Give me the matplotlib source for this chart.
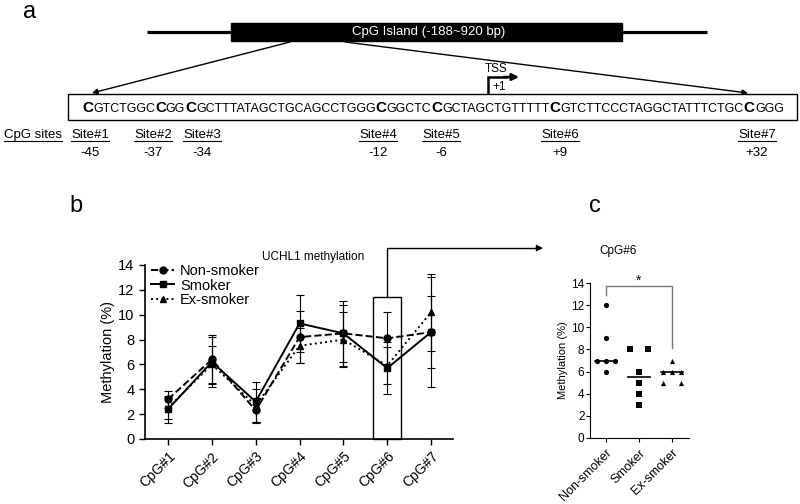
import matplotlib
matplotlib.use('Agg')
import numpy as np
import matplotlib.pyplot as plt
from matplotlib.patches import Rectangle

plt.rcParams['font.family'] = ['Liberation Sans', 'DejaVu Sans']

# ---- panel a: sequence / CpG sites ----
seq_parts = ["C", "GTCTGGC", "C", "GG", "C", "GCTTTATAGCTGCAGCCTGGG", "C", "GGCTC",
             "C", "GCTAGCTGTTTTT", "C", "GTCTTCCCTAGGCTATTTCTGC", "C", "GGG"]
site_names = ["Site#1", "Site#2", "Site#3", "Site#4", "Site#5", "Site#6", "Site#7"]
site_pos = ["-45", "-37", "-34", "-12", "-6", "+9", "+32"]
site_x = [90, 153, 202, 378, 441, 560, 757]

# ---- panel b: UCHL1 methylation ----
cpg = ["CpG#1", "CpG#2", "CpG#3", "CpG#4", "CpG#5", "CpG#6", "CpG#7"]
non_mean = [3.2, 6.4, 2.3, 8.2, 8.5, 8.1, 8.6]
non_sd = [0.7, 2.0, 1.0, 2.1, 2.6, 2.1, 2.9]
smk_mean = [2.4, 6.2, 3.0, 9.3, 8.5, 5.7, 8.6]
smk_sd = [1.1, 2.0, 1.6, 2.3, 2.3, 2.1, 4.4]
ex_mean = [2.5, 6.0, 2.7, 7.5, 8.0, 5.9, 10.2]
ex_sd = [0.9, 1.5, 1.3, 1.4, 2.2, 1.5, 3.1]

# ---- panel c: CpG#6 individual values ----
groups = ["Non-smoker", "Smoker", "Ex-smoker"]
non_vals = [12, 9, 7, 7, 7, 6]
smk_vals = [8, 8, 6, 5, 4, 3]
ex_vals = [7, 6, 6, 6, 5, 5]

W, H = 800, 504
fig = plt.figure(figsize=(8, 5.04), dpi=100)
ax0 = fig.add_axes([0, 0, 1, 1])
ax0.set_xlim(0, W)
ax0.set_ylim(H, 0)
ax0.axis('off')
r = fig.canvas.get_renderer()

# panel labels
ax0.text(30, 12, "a", fontsize=17, ha='center', va='center')
ax0.text(76, 206, "b", fontsize=17, ha='center', va='center')
ax0.text(595, 206, "c", fontsize=17, ha='center', va='center')

# gene / CpG island
ax0.plot([147, 707], [32, 32], color='black', lw=2.3, solid_capstyle='butt')
ax0.add_patch(Rectangle((231, 23), 391, 18, color='black'))
ax0.text(429, 32, "CpG Island (-188~920 bp)", color='white', fontsize=9.5,
         ha='center', va='center')

# zoom arrows
for x0, x1 in [(290, 92), (345, 748)]:
    ax0.annotate('', xy=(x1, 93), xytext=(x0, 42),
                 arrowprops=dict(arrowstyle='-|>', color='black', lw=1,
                                 mutation_scale=8, shrinkA=0, shrinkB=0))

# sequence box
ax0.add_patch(Rectangle((68, 94), 729, 26, facecolor='white', edgecolor='black', lw=1))


def draw_seq(scale):
    x = 82
    arts = []
    for i, s in enumerate(seq_parts):
        if i % 2 == 0:
            t = ax0.text(x, 112, s, fontsize=12 * scale, fontweight='bold',
                         ha='left', va='baseline')
        else:
            t = ax0.text(x, 112, s, fontsize=9.8 * scale, ha='left', va='baseline')
        bb = t.get_window_extent(r)
        x = bb.x1
        arts.append(t)
    return arts, x - 82


arts, width = draw_seq(1.0)
for a in arts:
    a.remove()
draw_seq(703 / width)

# TSS
ax0.plot([488, 488, 506], [93, 77, 77], color='black', lw=1.8, solid_joinstyle='miter')
ax0.annotate('', xy=(519, 77), xytext=(504, 77),
             arrowprops=dict(arrowstyle='-|>', color='black', lw=1.8,
                             mutation_scale=10, shrinkA=0, shrinkB=0))
ax0.text(496, 69, "TSS", fontsize=8.5, ha='center', va='center')
ax0.text(492, 87, "+1", fontsize=8.5, ha='left', va='center')


def underlined(x, y, s):
    t = ax0.text(x, y, s, fontsize=9.5, ha='center', va='center')
    bb = t.get_window_extent(r)
    ax0.plot([bb.x0, bb.x1], [y + 6, y + 6], color='black', lw=0.8)


underlined(33, 135, "CpG sites")
for xs, name, pos in zip(site_x, site_names, site_pos):
    underlined(xs, 135, name)
    ax0.text(xs, 153, pos, fontsize=9.5, ha='center', va='center')

# ---- panel b ----
axb = fig.add_axes([145 / W, 1 - 439 / H, 308 / W, 174 / H])
axb.patch.set_alpha(0)
x = np.arange(1, len(cpg) + 1)
series = [(non_mean, non_sd, '--', 'o', "Non-smoker"),
          (smk_mean, smk_sd, '-', 's', "Smoker"),
          (ex_mean, ex_sd, ':', '^', "Ex-smoker")]
for m, sd, ls, mk, lab in series:
    axb.errorbar(x, m, yerr=sd, fmt='none', ecolor='black', elinewidth=0.8,
                 capsize=3, capthick=0.8)
    axb.plot(x, m, linestyle=ls, marker=mk, color='black', lw=1.4, ms=5, label=lab)
axb.set_xlim(0.475, 7.5)
axb.set_ylim(0, 14)
axb.set_yticks(range(0, 15, 2))
axb.set_xticks(x)
axb.set_xticklabels(cpg, rotation=45, ha='right', rotation_mode='anchor', fontsize=10)
axb.tick_params(axis='y', labelsize=10.5, length=4, width=1)
axb.tick_params(axis='x', length=4, width=1)
axb.set_ylabel("Methylation (%)", fontsize=10.5, labelpad=2)
for sp in ['top', 'right']:
    axb.spines[sp].set_visible(False)
for sp in ['left', 'bottom']:
    axb.spines[sp].set_linewidth(1.2)
ax0.text(313, 257, "UCHL1 methylation", fontsize=8.5, ha='center', va='center')
axb.legend(loc='upper left', bbox_to_anchor=(0.0, 1.04), frameon=False, fontsize=10.5,
           handlelength=1.6, handletextpad=0.4, labelspacing=0.05, borderaxespad=0)

# highlight box around CpG#6 and arrow to panel c
axb.add_patch(Rectangle((5.68, 0), 0.64, 11.4, fill=False, edgecolor='black', lw=1,
                        clip_on=False))
axb.annotate('', xy=(543, 248), xycoords=ax0.transData, xytext=(6, 11.4),
             textcoords='data', annotation_clip=False,
             arrowprops=dict(arrowstyle='-|>', color='black', lw=1, mutation_scale=9,
                             shrinkA=0, shrinkB=0,
                             connectionstyle='angle,angleA=90,angleB=0,rad=0'))

# ---- panel c ----
axc = fig.add_axes([590 / W, 1 - 438 / H, 99 / W, 155 / H])
axc.patch.set_alpha(0)
markers = ['o', 's', '^']
for gi, (vals, mk) in enumerate(zip([non_vals, smk_vals, ex_vals], markers)):
    vals = np.array(vals)
    xs = np.zeros(len(vals))
    for v in np.unique(vals):
        idx = np.where(vals == v)[0]
        if len(idx) > 1:
            xs[idx] = np.linspace(-0.27, 0.27, len(idx))
    axc.scatter(gi + xs, vals, marker=mk, color='black', s=14, zorder=3, linewidths=0)
    med = np.median(vals)
    axc.plot([gi - 0.33, gi + 0.33], [med, med], color='black', lw=1.2)
axc.set_xlim(-0.485, 2.515)
axc.set_ylim(0, 14)
axc.set_yticks(range(0, 15, 2))
axc.set_xticks(range(3))
axc.set_xticklabels(groups, rotation=45, ha='right', rotation_mode='anchor', fontsize=9)
axc.tick_params(axis='y', labelsize=8.5, length=3, width=0.8, pad=1)
axc.tick_params(axis='x', length=3, width=0.8)
axc.set_ylabel("Methylation (%)", fontsize=8, labelpad=2)
for sp in ['top', 'right']:
    axc.spines[sp].set_visible(False)
ax0.text(618, 251, "CpG#6", fontsize=8.5, ha='center', va='center')
axc.plot([0, 0, 2, 2], [12.9, 13.7, 13.7, 8.1], color='#777777', lw=1, clip_on=False)
axc.text(1, 14.2, "*", fontsize=10, ha='center', va='center')

fig.savefig("out.png", dpi=100)
